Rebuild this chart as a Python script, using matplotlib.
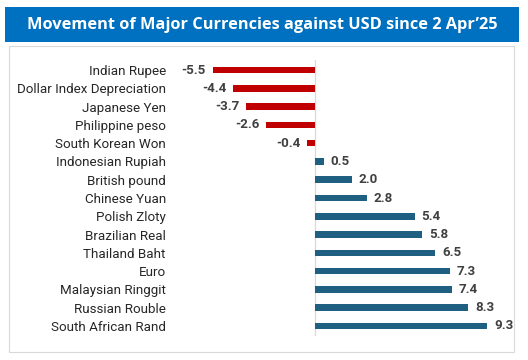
import matplotlib.pyplot as plt
from matplotlib.patches import Rectangle

currencies = ["Indian Rupee", "Dollar Index Depreciation", "Japanese Yen", "Philippine peso",
              "South Korean Won", "Indonesian Rupiah", "British pound", "Chinese Yuan",
              "Polish Zloty", "Brazilian Real", "Thailand Baht", "Euro",
              "Malaysian Ringgit", "Russian Rouble", "South African Rand"]
change = [-5.5, -4.4, -3.7, -2.6, -0.4, 0.5, 2.0, 2.8, 5.4, 5.8, 6.5, 7.3, 7.4, 8.3, 9.3]
title = "Movement of Major Currencies against USD since 2 Apr\u201925"

W, H = 528, 360
fig = plt.figure(figsize=(W / 100, H / 100), dpi=100)
fig.patch.set_facecolor("white")

# title banner and panel frame (pixel coords from top-left)
def px_rect(x0, y0, x1, y1, **kw):
    fig.patches.append(Rectangle((x0 / W, 1 - y1 / H), (x1 - x0) / W, (y1 - y0) / H,
                                 transform=fig.transFigure, zorder=-5, **kw))

px_rect(5, 7, 519, 42, facecolor="#0070C0", edgecolor="none")
px_rect(9, 46, 514, 352, facecolor="white", edgecolor="#D9D9D9", linewidth=0.8)
fig.text(262 / W, 1 - 25 / H, title, color="white", fontsize=11.8, fontweight="bold",
         family="Open Sans", ha="center", va="center")

ax = fig.add_axes([170 / W, 1 - 336 / H, 330 / W, 276 / H])
ax.set_facecolor("none")
pos = list(range(len(currencies)))
colors = ["#C00000" if v < 0 else "#1F5F82" for v in change]
ax.barh(pos, change, height=0.36, color=colors)
ax.set_xlim(-7.8, 10.0)
ax.set_ylim(len(currencies) - 0.45, -0.55)
ax.axvline(0, color="#D9D9D9", linewidth=0.9, zorder=0)

for sp in ax.spines.values():
    sp.set_visible(False)
ax.set_xticks([])
ax.set_yticks(pos)
ax.set_yticklabels(currencies, fontsize=9.6, family="Roboto", color="#262626")
ax.tick_params(axis="y", length=0, pad=3)

for p, v in zip(pos, change):
    off = -5 if v < 0 else 5
    ax.annotate(f"{v:.1f}", (v, p), xytext=(off, 0), textcoords="offset points",
                ha="right" if v < 0 else "left", va="center", fontsize=9.6,
                fontweight="bold", family="Roboto", color="#404040")

fig.savefig("out.png", dpi=100)
